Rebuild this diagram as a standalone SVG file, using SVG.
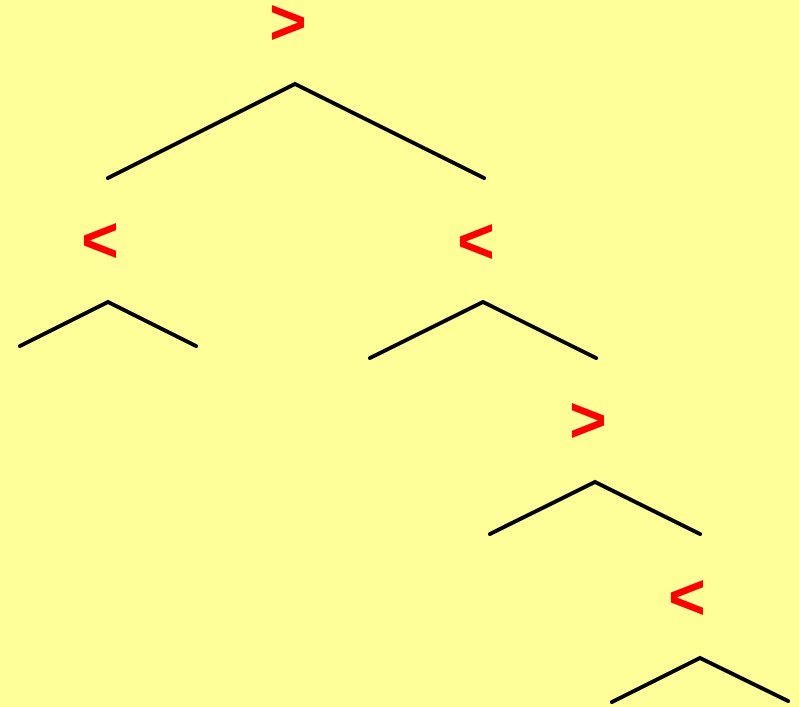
<svg xmlns="http://www.w3.org/2000/svg" width="799" height="707" viewBox="0 0 799 707">
<style>
.op{font-family:"Liberation Sans",Arial,sans-serif;font-weight:bold;font-size:64px;fill:#FF0000;text-anchor:middle}
.e{fill:none;stroke:#000;stroke-width:4;stroke-linecap:round;stroke-linejoin:miter}
</style>
<rect width="799" height="707" fill="#FFFF99"/>
<g id="n1"><text class="op" x="288" y="44">&gt;</text></g>
<g id="n2"><text class="op" x="100" y="262">&lt;</text></g>
<g id="n3"><text class="op" x="476" y="263">&lt;</text></g>
<g id="n4"><text class="op" x="588" y="442">&gt;</text></g>
<g id="n5"><text class="op" x="687" y="619">&lt;</text></g>
<g id="edges">
<polyline class="e" points="108,178 295,84 484,178"/>
<polyline class="e" points="20,346 108,302 196,346"/>
<polyline class="e" points="370,358 483,302 596,358"/>
<polyline class="e" points="490,534 595,482 700,534"/>
<polyline class="e" points="612,702 700,658 788,701"/>
</g>
</svg>
